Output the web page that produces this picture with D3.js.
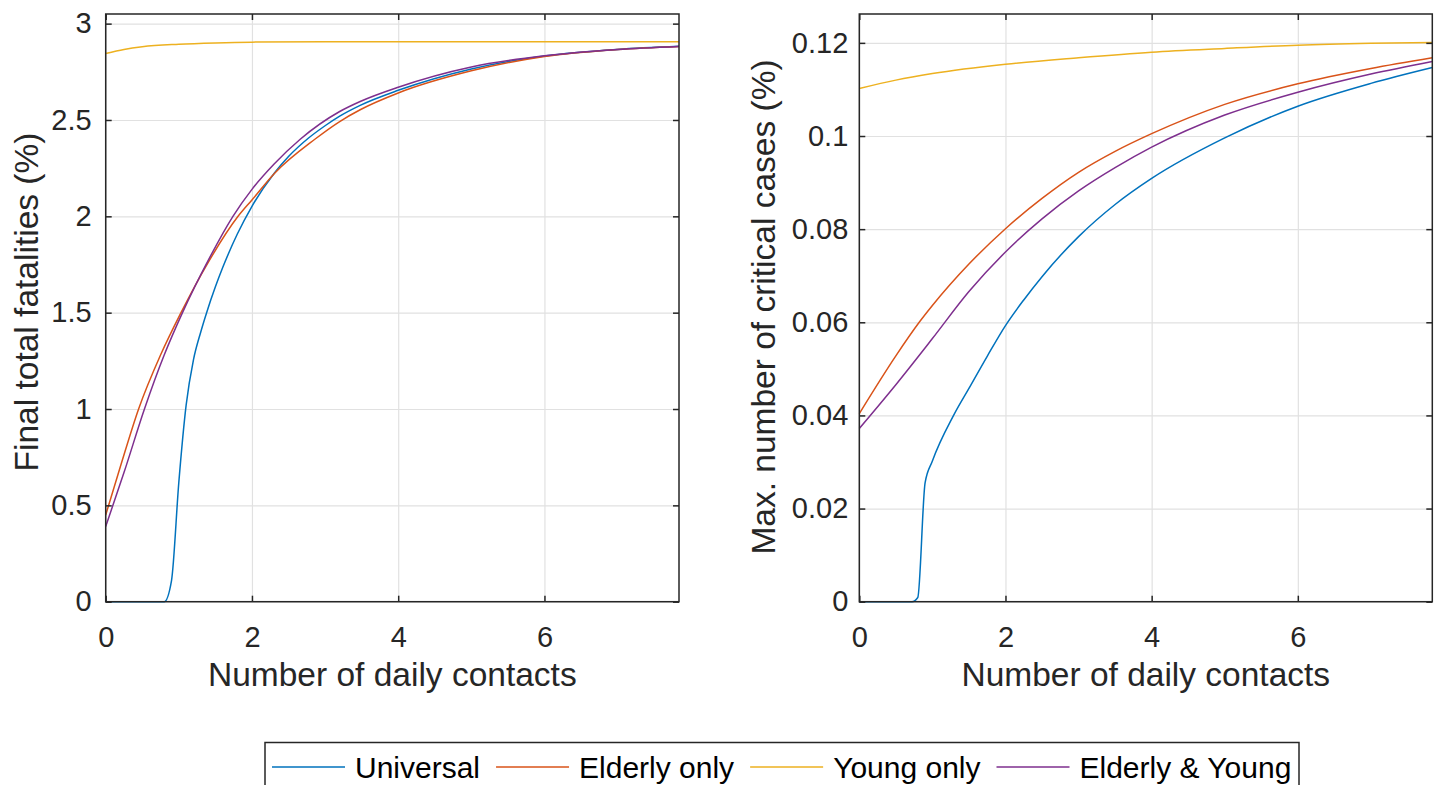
<!DOCTYPE html>
<html>
<head>
<meta charset="utf-8">
<script src="https://cdn.jsdelivr.net/npm/d3@7/dist/d3.min.js"></script>
<style>
  body { margin: 0; background: #fff; }
  text { font-family: "Liberation Sans", Arial, Helvetica, sans-serif; fill: #262626; }
</style>
</head>
<body>
<svg id="chart" width="1439" height="785"></svg>
<script>
// series names / colours (MATLAB default order)
const seriesNames = ["Universal", "Elderly only", "Young only", "Elderly & Young"];
const seriesColors = ["#0072BD", "#D95319", "#EDB120", "#7E2F8E"];

const xTicks = [0, 2, 4, 6];
const fatalTicks = [0, 0.5, 1, 1.5, 2, 2.5, 3];
const criticalTicks = [0, 0.02, 0.04, 0.06, 0.08, 0.1, 0.12];

// left panel: final total fatalities (%) vs number of daily contacts
const fatalUniversal = [[0,0],[0.8,0],[0.9,0.11],[1.0,0.62],[1.1,1.02],[1.2,1.255],[1.3,1.40],[1.38,1.5],[1.5,1.634],
  [1.6,1.734],[1.8,1.908],[2,2.052],[2.31,2.226],[2.5,2.31],[2.77,2.405],[3,2.47],[3.2,2.52],[3.48,2.576],[4,2.654],
  [5,2.765],[6,2.832],[7,2.866],[7.84,2.882]];
const fatalElderly = [[0,0.45],[0.2,0.70],[0.45,1.0],[0.75,1.28],[1.03,1.5],[1.4,1.76],[1.81,2.0],[2,2.085],
  [2.31,2.224],[2.86,2.40],[3.2,2.492],[3.48,2.553],[4,2.64],[5,2.755],[6,2.83],[7,2.866],[7.84,2.882]];
const fatalYoung = [[0,2.845],[0.25,2.866],[0.5,2.88],[1,2.893],[1.5,2.9],[2,2.904],[3,2.906],[5,2.906],[7.84,2.906]];
const fatalBoth = [[0,0.39],[0.25,0.67],[0.53,1.0],[0.8,1.28],[1.05,1.5],[1.4,1.77],[1.74,2.0],[2,2.14],
  [2.3,2.27],[2.66,2.40],[3.2,2.544],[3.48,2.596],[4,2.67],[5,2.775],[6,2.833],[7,2.866],[7.84,2.882]];

// right panel: max. number of critical cases (%)
const critUniversal = [[0,0],[0.72,0],[0.8,0.0009],[0.9,0.0255],[1.0,0.0302],[1.29,0.04],[1.5,0.0458],[1.75,0.0527],
  [2,0.0593],[2.25,0.0648],[2.5,0.0698],[3,0.0784],[3.5,0.0853],[4,0.0909],[5,0.0996],[6,0.1064],[7,0.1113],[7.84,0.1147]];
const critElderly = [[0,0.0404],[0.5,0.0528],[0.82,0.06],[1,0.0636],[1.5,0.0725],[2,0.0801],[2.5,0.0866],[3,0.0922],
  [3.5,0.0967],[4,0.1005],[5,0.1068],[6,0.1112],[7,0.1145],[7.84,0.1168]];
const critYoung = [[0,0.1102],[0.5,0.112],[1,0.1134],[2,0.1154],[3,0.1168],[4,0.118],[5,0.1188],[6,0.1195],[7,0.1199],[7.84,0.1201]];
const critBoth = [[0,0.0372],[0.5,0.0466],[1.0,0.0565],[1.5,0.0666],[2,0.0751],[2.5,0.0822],[3,0.0882],[3.5,0.0932],
  [4,0.0976],[5,0.1045],[6,0.1094],[7,0.1133],[7.84,0.116]];

const svg = d3.select("#chart");

function drawPanel(opts) {
    const x = d3.scaleLinear().domain([0, 7.84]).range([opts.left, opts.right]);
    const y = d3.scaleLinear().domain([0, opts.yMax]).range([opts.bottom, opts.top]);
    const g = svg.append("g");

    // grid
    g.append("g")
        .attr("transform", `translate(0,${opts.bottom})`)
        .call(d3.axisBottom(x).tickValues(xTicks).tickSize(-(opts.bottom - opts.top)).tickFormat(""))
        .call(a => a.select(".domain").remove())
        .call(a => a.selectAll("line").attr("stroke", "#e1e1e1").attr("stroke-width", 1.2));
    g.append("g")
        .attr("transform", `translate(${opts.left},0)`)
        .call(d3.axisLeft(y).tickValues(opts.yTicks).tickSize(-(opts.right - opts.left)).tickFormat(""))
        .call(a => a.select(".domain").remove())
        .call(a => a.selectAll("line").attr("stroke", "#e1e1e1").attr("stroke-width", 1.2));

    // lines
    const line = d3.line()
        .x(d => x(d[0]))
        .y(d => y(d[1]))
        .curve(d3.curveMonotoneX);
    opts.series.forEach((s, i) => {
        g.append("path")
            .datum(s)
            .attr("fill", "none")
            .attr("stroke", seriesColors[i])
            .attr("stroke-width", 1.5)
            .attr("d", line);
    });

    // axes (ticks inside, box on)
    const styleAxis = a => {
        a.select(".domain").remove();
        a.selectAll("line").attr("stroke", "#262626").attr("stroke-width", 1.5);
        a.selectAll("text").style("font-size", "29px").attr("fill", "#262626");
    };
    g.append("g")
        .attr("transform", `translate(0,${opts.bottom})`)
        .call(d3.axisBottom(x).tickValues(xTicks).tickSizeInner(-6).tickSizeOuter(0).tickPadding(45).tickFormat(d3.format("")))
        .call(styleAxis)
        .call(a => a.selectAll("text").attr("dy", 0));
    g.append("g")
        .attr("transform", `translate(0,${opts.top})`)
        .call(d3.axisTop(x).tickValues(xTicks).tickSizeInner(-6).tickSizeOuter(0).tickFormat(""))
        .call(styleAxis);
    g.append("g")
        .attr("transform", `translate(${opts.left},0)`)
        .call(d3.axisLeft(y).tickValues(opts.yTicks).tickSizeInner(-6).tickSizeOuter(0).tickPadding(opts.labelPad).tickFormat(d3.format("")))
        .call(styleAxis);
    g.append("g")
        .attr("transform", `translate(${opts.right},0)`)
        .call(d3.axisRight(y).tickValues(opts.yTicks).tickSizeInner(-6).tickSizeOuter(0).tickFormat(""))
        .call(styleAxis);

    g.append("rect")
        .attr("x", opts.left).attr("y", opts.top)
        .attr("width", opts.right - opts.left).attr("height", opts.bottom - opts.top)
        .attr("fill", "none").attr("stroke", "#262626").attr("stroke-width", 1.5);

    // labels
    g.append("text")
        .attr("x", (opts.left + opts.right) / 2)
        .attr("y", 686)
        .attr("text-anchor", "middle")
        .style("font-size", "33.5px")
        .text("Number of daily contacts");
    g.append("text")
        .attr("transform", `translate(${opts.yLabelX},${opts.yLabelY}) rotate(-90)`)
        .attr("text-anchor", "middle")
        .style("font-size", "33.5px")
        .text(opts.yLabel);
}

drawPanel({
    left: 105.7, right: 679, top: 14, bottom: 601.7,
    yMax: 3.05, yTicks: fatalTicks, labelPad: 14,
    yLabel: "Final total fatalities (%)", yLabelX: 38, yLabelY: 302,
    series: [fatalUniversal, fatalElderly, fatalYoung, fatalBoth]
});
drawPanel({
    left: 859.3, right: 1432.3, top: 14, bottom: 601.7,
    yMax: 0.1262, yTicks: criticalTicks, labelPad: 11,
    yLabel: "Max. number of critical cases (%)", yLabelX: 775, yLabelY: 307,
    series: [critUniversal, critElderly, critYoung, critBoth]
});

// legend
const legend = svg.append("g");
legend.append("rect")
    .attr("x", 265).attr("y", 742.5)
    .attr("width", 1034).attr("height", 60)
    .attr("fill", "#fff").attr("stroke", "#262626").attr("stroke-width", 1.5);
let lx = 272;
seriesNames.forEach((name, i) => {
    legend.append("line")
        .attr("x1", lx).attr("x2", lx + 73)
        .attr("y1", 767).attr("y2", 767)
        .attr("stroke", seriesColors[i]).attr("stroke-width", 1.5);
    const t = legend.append("text")
        .attr("x", lx + 83).attr("y", 778)
        .style("font-size", "30px")
        .style("fill", "#000")
        .text(name);
    lx = lx + 83 + t.node().getComputedTextLength() + 16;
});
</script>
</body>
</html>
